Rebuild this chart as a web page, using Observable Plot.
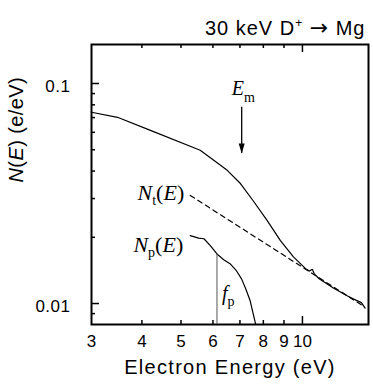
<!DOCTYPE html>
<html><head><meta charset="utf-8">
<script src="https://cdn.jsdelivr.net/npm/d3@7"></script>
<script src="https://cdn.jsdelivr.net/npm/@observablehq/plot@0.6"></script>
<style>body{margin:0;background:#fff}</style>
</head><body><div id="chart"></div>
<script>
// Total spectrum N(E)
const mainE = [3.0, 3.48, 4.20, 5.58, 6.51, 7.02, 7.54, 8.18, 8.82, 9.50, 10.18, 10.41, 10.58, 10.70, 11.0, 11.9, 12.9, 13.4, 14.0, 14.3];
const mainN = [0.0740, 0.0702, 0.0612, 0.0497, 0.0403, 0.0351, 0.0294, 0.0238, 0.0193, 0.0163, 0.0144, 0.01405, 0.0143, 0.01365, 0.01296, 0.01179, 0.01084, 0.01047, 0.0101, 0.00953];
// Nt(E) power-law extrapolation (dashed)
const ntE = [5.27, 14.2];
const ntN = [0.0310, 0.0097];
// Np(E) peak contribution
const npE = [5.27, 5.53, 5.70, 5.91, 6.14, 6.38, 6.63, 6.86, 7.07, 7.25, 7.42, 7.64, 7.70];
const npN = [0.02035, 0.01982, 0.0197, 0.01832, 0.0168, 0.01582, 0.01512, 0.0141, 0.01291, 0.01155, 0.01029, 0.00819, 0.0076];
// annotations
const fpE = 6.14, fpTop = 0.0168;
const emE = 7.07, emTop = 0.078, emTip = 0.0481;
// axes
const xDomain = [3, 14.58];
const yDomain = [0.00803, 0.1504];
const xTickLabels = [3, 4, 5, 6, 7, 8, 9, 10];
const xMinor = [4, 5, 6, 7, 8, 9];
const xMajor = [10];
const yMajor = [0.01, 0.1];
const yTickLabels = ["0.01", "0.1"];
const yMinor = [0.009, 0.02, 0.03, 0.04, 0.05, 0.06, 0.07, 0.08, 0.09];
const title = "30 keV D+ → Mg";
const xLabel = "Electron Energy (eV)";
const yLabel = "N(E) (e/eV)";

const main = mainE.map((e, i) => ({e, n: mainN[i]}));
const nt = ntE.map((e, i) => ({e, n: ntN[i]}));
const np = npE.map((e, i) => ({e, n: npN[i]}));

const serif = "'Liberation Serif', 'Times New Roman', serif";
const sans = "'Liberation Sans', Arial, sans-serif";
const tri = {draw(ctx) { ctx.moveTo(0, 0); ctx.lineTo(-3, -10); ctx.lineTo(3, -10); ctx.closePath(); }};

const chart = Plot.plot({
  width: 373, height: 386,
  marginTop: 44, marginRight: 5, marginBottom: 62, marginLeft: 91,
  style: {fontFamily: sans, background: "#fff", color: "#000", overflow: "visible"},
  x: {type: "log", domain: xDomain, axis: null},
  y: {type: "log", domain: yDomain, axis: null},
  marks: [
    Plot.ruleX(xMinor, {x: d => d, insetTop: 276, strokeWidth: 1.5}),
    Plot.ruleX(xMinor, {x: d => d, insetBottom: 276, strokeWidth: 1.5}),
    Plot.ruleX(xMajor, {x: d => d, insetTop: 272, strokeWidth: 1.5}),
    Plot.ruleX(xMajor, {x: d => d, insetBottom: 272, strokeWidth: 1.5}),
    Plot.ruleY(yMinor, {y: d => d, insetRight: 273, strokeWidth: 1.5}),
    Plot.ruleY(yMajor, {y: d => d, insetRight: 269, strokeWidth: 1.5}),
    Plot.frame({strokeWidth: 2}),
    Plot.text(xTickLabels, {x: d => d, frameAnchor: "bottom", dy: 22, text: d => String(d), fontSize: 17}),
    Plot.text(yMajor, {y: d => d, frameAnchor: "left", dx: -21, dy: 3, textAnchor: "end", text: (d, i) => yTickLabels[i], fontSize: 17}),
    Plot.text([title], {frameAnchor: "top-right", dx: -3, dy: -24, textAnchor: "end", text: d => d, fontSize: 20}),
    Plot.text([xLabel], {frameAnchor: "bottom", dy: 49, text: d => d, fontSize: 20}),
    Plot.text([yLabel], {frameAnchor: "left", dx: -74.5, dy: -2, rotate: -90, text: d => d, fontSize: 20}),
    Plot.line(main, {x: "e", y: "n", strokeWidth: 1.2}),
    Plot.line(nt, {x: "e", y: "n", strokeWidth: 1.2, strokeDasharray: "5,4"}),
    Plot.line(np, {x: "e", y: "n", strokeWidth: 1.2, clip: true}),
    Plot.ruleX([fpE], {x: d => d, y1: yDomain[0], y2: fpTop, stroke: "#555", strokeWidth: 1}),
    Plot.ruleX([emE], {x: d => d, y1: emTop, y2: emTip, strokeWidth: 1.3}),
    Plot.dot([emE], {x: d => d, y: () => emTip, symbol: tri, fill: "#000", stroke: "none"}),
    Plot.text([nt[0]], {x: "e", y: "n", text: () => "Nt(E)", textAnchor: "end", dx: -6, dy: -2, fontFamily: serif, fontSize: 22}),
    Plot.text([np[0]], {x: "e", y: "n", text: () => "Np(E)", textAnchor: "end", dx: -7, dy: 9, fontFamily: serif, fontSize: 22}),
    Plot.text([emE], {x: d => d, y: () => emTop, text: () => "Em", textAnchor: "start", dx: -10, dy: -18.4, fontFamily: serif, fontSize: 20}),
    Plot.text([fpE], {x: d => d, frameAnchor: "bottom", text: () => "fp", textAnchor: "start", dx: 5, dy: -25, fontFamily: serif, fontSize: 20})
  ]
});
document.getElementById("chart").appendChild(chart);

const rich = {
  "Nt(E)": [["N", {it: 1}], ["t", {sub: 5, size: 14}], ["(", {}], ["E", {it: 1}], [")", {}]],
  "Np(E)": [["N", {it: 1}], ["p", {sub: 5, size: 14}], ["(", {}], ["E", {it: 1}], [")", {}]],
  "Em": [["E", {it: 1}], ["m", {sub: 7, size: 14}]],
  "fp": [["f", {it: 1}], ["p", {sub: 6, size: 14}]],
  "30 keV D+ → Mg": [["30 keV D", {}], ["+", {sub: -8, size: 12}], [" ", {}], ["→", {font: "'DejaVu Sans', sans-serif", size: 22, sub: 0.5}], [" Mg", {}]],
  "N(E) (e/eV)": [["N", {it: 1}], ["(", {}], ["E", {it: 1}], [") (e/eV)", {}]]
};
const spacing = {"30 keV D+ → Mg": 1.0, "Electron Energy (eV)": 1.3, "N(E) (e/eV)": 0.4, "0.1": 0.5, "0.01": 0.5};
d3.select(chart).selectAll("text").each(function() {
  const key = this.textContent;
  if (spacing[key] != null) this.setAttribute("letter-spacing", spacing[key]);
  const parts = rich[key];
  if (!parts) return;
  const el = d3.select(this);
  el.text(null);
  let shift = 0;
  for (const [t, o] of parts) {
    const target = o.sub || 0;
    const ts = el.append("tspan").text(t).attr("font-style", o.it ? "italic" : "normal");
    if (target !== shift) ts.attr("dy", target - shift);
    shift = target;
    if (o.size) ts.attr("font-size", o.size);
    if (o.font) ts.attr("font-family", o.font);
  }
});
</script>
</body></html>
